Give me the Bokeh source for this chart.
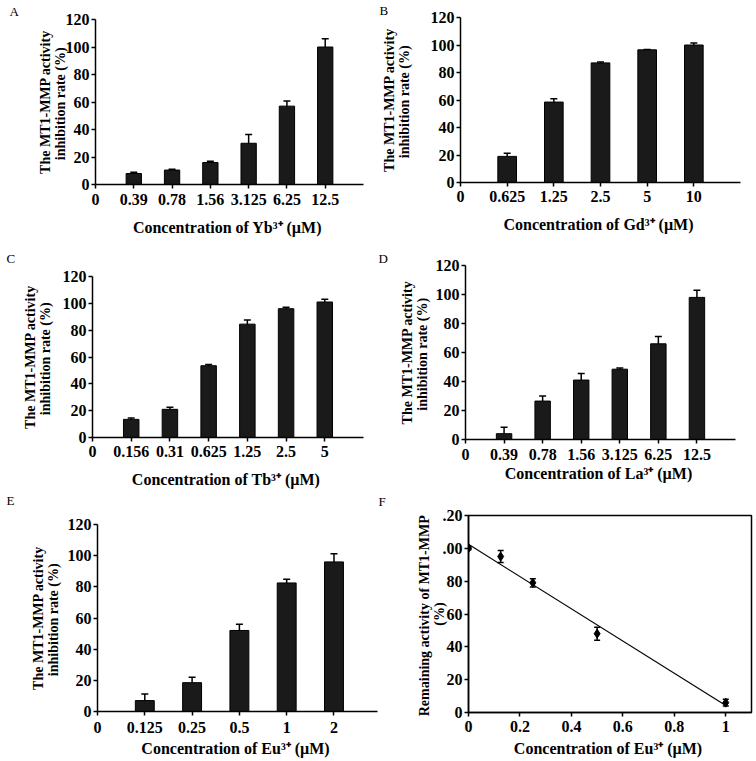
from bokeh.plotting import figure
from bokeh.layouts import column, row
from bokeh.models import (Range1d, FixedTicker, ColumnDataSource, Whisker, TeeHead, Title)
from bokeh.embed import file_html
from bokeh.resources import INLINE
import numpy as np

# ---------------- data ----------------
A_labels = ["0", "0.39", "0.78", "1.56", "3.125", "6.25", "12.5"]
A_values = [8, 10.5, 16, 30, 57, 100]
A_errors = [1, 0.6, 1, 6.3, 3.7, 6]

B_labels = ["0", "0.625", "1.25", "2.5", "5", "10"]
B_values = [19, 58.5, 87, 96.5, 100]
B_errors = [2.3, 2.5, 0.7, 0.3, 1.5]

C_labels = ["0", "0.156", "0.31", "0.625", "1.25", "2.5", "5"]
C_values = [13.5, 21, 53.5, 84.5, 96, 101]
C_errors = [1, 1.5, 1, 3, 1, 2]

D_labels = ["0", "0.39", "0.78", "1.56", "3.125", "6.25", "12.5"]
D_values = [4, 26.5, 41, 48.5, 66, 98]
D_errors = [4.5, 3.5, 4.5, 0.8, 5, 5]

E_labels = ["0", "0.125", "0.25", "0.5", "1", "2"]
E_values = [7, 18.5, 52, 82.5, 96]
E_errors = [4.3, 3.5, 4, 2.3, 5.3]

F_x = [0, 0.125, 0.25, 0.5, 1]
F_y = [100, 95, 79, 48, 6]
F_err = [0.8, 3.7, 2.5, 4, 2]
F_xticks = [0, 0.2, 0.4, 0.6, 0.8, 1]
F_xlabels = ["0", "0.2", "0.4", "0.6", "0.8", "1"]
F_yticks = [0, 20, 40, 60, 80, 100, 120]
F_ylabels = ["0", "20", "40", "60", "80", ".00", ".20"]

Y_ticks = [0, 20, 40, 60, 80, 100, 120]
YLABEL_BAR = "The MT1-MMP activity\ninhibition rate  (%)"
YLABEL_F = "Remaining activity of  MT1-MMP\n(%)"

FONT = "Liberation Serif"
TICK_FS = "16px"
XLABEL_FS = "16px"
YLABEL_FS = "14px"
LETTER_FS = "13px"


def style_axes(p, xls, xstand, ystand):
    for ax in (p.xaxis[0], p.yaxis[0]):
        ax.axis_line_color = "black"
        ax.axis_line_width = 1.5
        ax.major_tick_line_color = "black"
        ax.major_tick_line_width = 1.5
        ax.major_tick_in = 0
        ax.major_tick_out = 4
        ax.minor_tick_line_color = None
        ax.major_label_text_font = FONT
        ax.major_label_text_font_style = "bold"
        ax.major_label_text_font_size = TICK_FS
        ax.major_label_text_color = "black"
        ax.axis_label_text_font = FONT
        ax.axis_label_text_font_style = "bold"
        ax.axis_label_text_color = "black"
        ax.axis_label_text_line_height = 1.0
    p.xaxis.axis_label_text_font_size = XLABEL_FS
    p.yaxis.axis_label_text_font_size = YLABEL_FS
    p.xaxis.major_label_standoff = xls
    p.yaxis.major_label_standoff = 2
    p.xaxis.axis_label_standoff = xstand
    p.yaxis.axis_label_standoff = ystand
    p.xgrid.grid_line_color = None
    p.ygrid.grid_line_color = None


def add_letter(p, letter, offset, standoff, spacer=None):
    # optional invisible spacer title sits next to the frame and lifts the letter
    if spacer is not None:
        p.add_layout(Title(text=" ", text_font=FONT, text_font_size="8px",
                           standoff=spacer), "above")
    p.add_layout(Title(text=letter, align="left", vertical_align="bottom",
                       offset=offset, standoff=standoff, text_font=FONT,
                       text_font_size=LETTER_FS, text_font_style="normal",
                       text_color="black"), "above")


def bar_panel(labels, values, errors, ion, xend, w, h, bl, br, bt, bb,
              xls, xstand, ystand):
    n = len(labels)
    p = figure(width=w, height=h, output_backend="svg", toolbar_location=None,
               x_range=Range1d(0, xend), y_range=Range1d(0, 120),
               min_border_left=bl, min_border_right=br, min_border_top=bt,
               min_border_bottom=bb)
    p.outline_line_color = None
    xs = list(range(1, n))
    vals = np.array(values, dtype=float)
    errs = np.array(errors, dtype=float)
    src = ColumnDataSource(dict(x=xs, top=vals, upper=vals + errs, lower=vals - errs))
    p.vbar(x="x", top="top", bottom=0, width=0.4, source=src,
           fill_color="#1a1a1a", line_color="black", line_width=1)
    p.add_layout(Whisker(source=src, base="x", upper="upper", lower="lower",
                         line_color="black", line_width=1.5,
                         upper_head=TeeHead(size=7, line_color="black", line_width=1.5),
                         lower_head=TeeHead(size=7, line_color="black", line_width=1.5)))
    p.xaxis.ticker = FixedTicker(ticks=list(range(n)))
    p.xaxis.major_label_overrides = {i: lab for i, lab in enumerate(labels)}
    p.yaxis.ticker = FixedTicker(ticks=Y_ticks)
    p.xaxis.axis_label = "Concentration of  " + ion + " (\u00b5M)"
    p.yaxis.axis_label = YLABEL_BAR
    style_axes(p, xls, xstand, ystand)
    return p


pA = bar_panel(A_labels, A_values, A_errors, "Yb\u00b3\u207a", 7,
               378, 248, 95, 15, 19, 64, 5, 11, -5)
add_letter(pA, "A", -86, 2)
pB = bar_panel(B_labels, B_values, B_errors, "Gd\u00b3\u207a", 6,
               376, 248, 81, 14, 15, 66, 4, 11, 16)
add_letter(pB, "B", -81, 0)
pC = bar_panel(C_labels, C_values, C_errors, "Tb\u00b3\u207a", 7,
               378, 242, 92, 15, 28, 49, 4, 11, 7)
add_letter(pC, "C", -86, 0, spacer=0)
pD = bar_panel(D_labels, D_values, D_errors, "La\u00b3\u207a", 7,
               376, 242, 87, 19, 17, 51, 5, 2, 3)
add_letter(pD, "D", -87, 0)
pE = bar_panel(E_labels, E_values, E_errors, "Eu\u00b3\u207a", 5.92,
               378, 269, 97, 1, 34, 48, 6, 4, 4)
add_letter(pE, "E", -91, 0, spacer=6)

# ---------------- panel F ----------------
pF = figure(width=376, height=269, output_backend="svg", toolbar_location=None,
            x_range=Range1d(0, 1.1), y_range=Range1d(0, 120),
            min_border_left=90, min_border_right=3, min_border_top=25,
            min_border_bottom=47)
pF.outline_line_color = "black"
pF.outline_line_width = 1.5
fx = np.array(F_x, dtype=float)
fy = np.array(F_y, dtype=float)
fe = np.array(F_err, dtype=float)
slope, intercept = np.polyfit(fx, fy, 1)
lx = np.array([fx.min(), fx.max()])
pF.line(lx, slope * lx + intercept, line_color="black", line_width=1.2)
fsrc = ColumnDataSource(dict(x=fx, y=fy, upper=fy + fe, lower=fy - fe))
pF.add_layout(Whisker(source=fsrc, base="x", upper="upper", lower="lower",
                      line_color="black", line_width=1.5,
                      upper_head=TeeHead(size=6, line_color="black", line_width=1.5),
                      lower_head=TeeHead(size=6, line_color="black", line_width=1.5)))
pF.scatter("x", "y", source=fsrc, marker="diamond", size=9, fill_color="black",
           line_color="black")
pF.xaxis.ticker = FixedTicker(ticks=F_xticks)
pF.xaxis.major_label_overrides = {t: s for t, s in zip(F_xticks, F_xlabels)}
pF.yaxis.ticker = FixedTicker(ticks=F_yticks)
pF.yaxis.major_label_overrides = {t: s for t, s in zip(F_yticks, F_ylabels)}
pF.xaxis.axis_label = "Concentration of  Eu\u00b3\u207a (\u00b5M)"
pF.yaxis.axis_label = YLABEL_F
style_axes(pF, 4, 5, -7)
add_letter(pF, "F", -90, 0, spacer=-4)

layout = column(row(column(pA), column(pB)),
                row(column(pC), column(pD)),
                row(column(pE), column(pF)))

open("out.html", "w").write(file_html(layout, INLINE))
